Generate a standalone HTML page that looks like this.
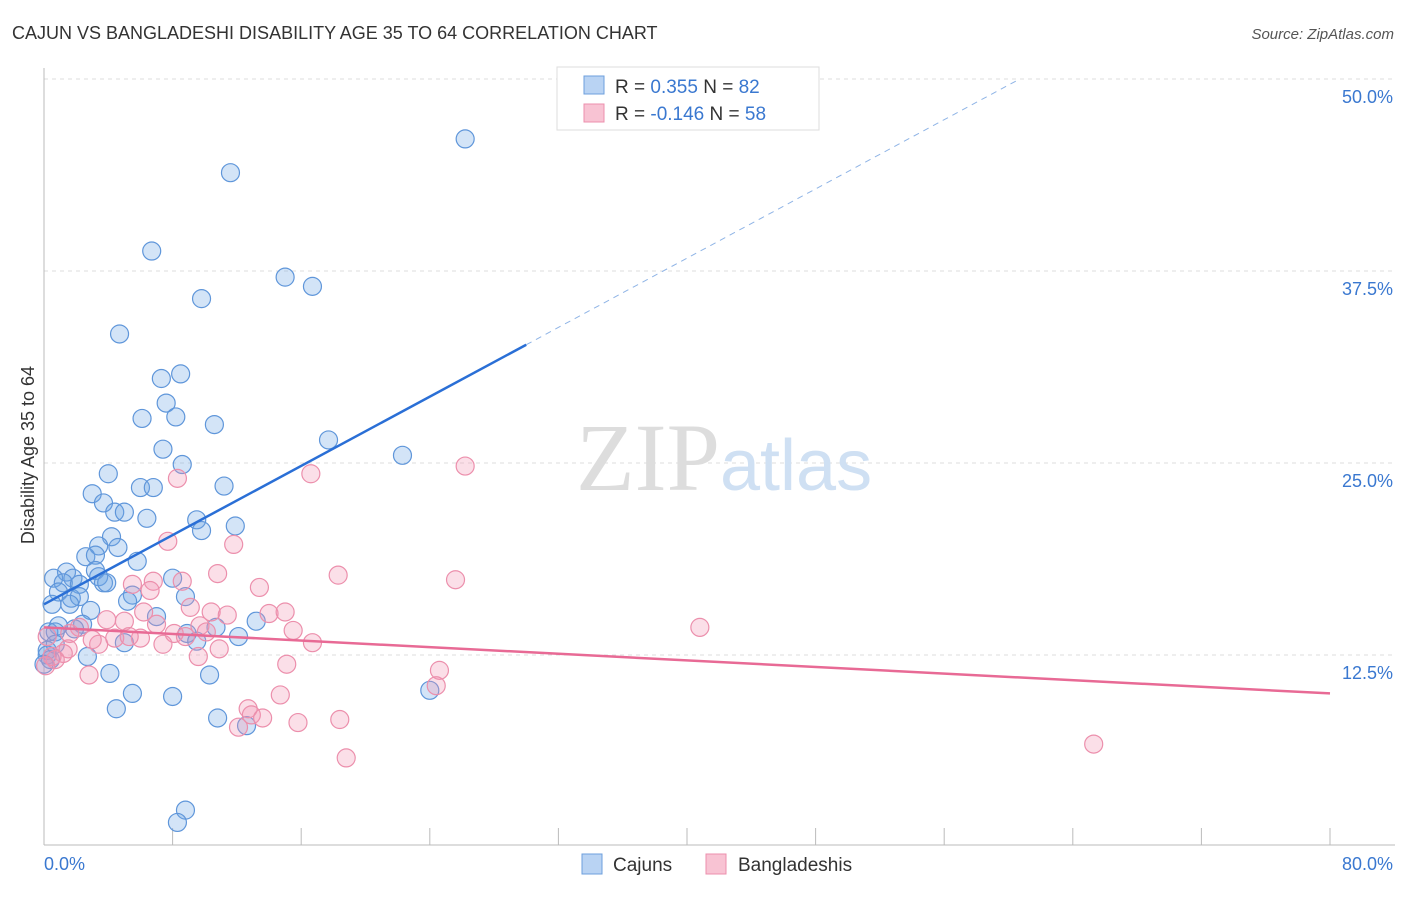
<!DOCTYPE html>
<html><head><meta charset="utf-8"><style>
body{margin:0;background:#fff;font-family:"Liberation Sans",sans-serif}
</style></head><body>
<svg width="1406" height="892" viewBox="0 0 1406 892" xmlns="http://www.w3.org/2000/svg">
<text x="12" y="39" font-size="18" fill="#333">CAJUN VS BANGLADESHI DISABILITY AGE 35 TO 64 CORRELATION CHART</text>
<text x="1394" y="39" font-size="15" fill="#555" text-anchor="end" font-style="italic">Source: ZipAtlas.com</text>
<g id="grid"></g>
<text x="720" y="490" font-size="96" fill="#ddd" text-anchor="end" font-family="Liberation Serif">ZIP</text>
<text x="720" y="490" font-size="72" fill="#cfe0f3">atlas</text>
<g id="pts"></g>
<g id="lines"></g>
<text transform="translate(34,455) rotate(-90)" font-size="18" fill="#333" text-anchor="middle">Disability Age 35 to 64</text>
<g>
<rect x="557" y="67" width="262" height="63" fill="#fff" stroke="#ddd"/>
<rect x="584" y="76" width="20" height="18" fill="#b9d3f3" stroke="#6d9fdc"/>
<rect x="584" y="104" width="20" height="18" fill="#f8c3d3" stroke="#ec8fac"/>
<text x="615" y="93" font-size="19" fill="#333">R = <tspan fill="#3a78d0"> 0.355</tspan>   N = <tspan fill="#3a78d0">82</tspan></text>
<text x="615" y="120" font-size="19" fill="#333">R = <tspan fill="#3a78d0">-0.146</tspan>   N = <tspan fill="#3a78d0">58</tspan></text>
</g>
<g>
<rect x="582" y="854" width="20" height="20" fill="#b9d3f3" stroke="#6d9fdc"/>
<text x="613" y="871" font-size="19" fill="#333">Cajuns</text>
<rect x="706" y="854" width="20" height="20" fill="#f8c3d3" stroke="#ec8fac"/>
<text x="738" y="871" font-size="19" fill="#333">Bangladeshis</text>
</g>
</svg>
<script>
const yTicks=[12.5,25,37.5,50];
const yTickLabels=["12.5%","25.0%","37.5%","50.0%"];
const xTickLabels=["0.0%","80.0%"];
const cajunX=[26.2,11.6,6.7,15.0,16.7,9.8,4.7,8.5,7.3,7.6,6.1,8.2,10.6,17.7,22.3,7.4,8.6,4.0,3.0,3.7,6.0,6.8,11.2,4.4,5.0,6.4,9.5,9.8,11.9,4.2,3.4,4.6,2.6,3.2,5.8,1.4,3.2,3.4,0.6,1.8,1.2,2.2,3.7,3.9,8.0,0.9,1.7,2.2,1.6,2.9,5.5,5.2,8.8,0.5,7.0,13.2,10.7,0.9,2.4,0.3,0.7,1.9,8.9,9.5,12.1,5.0,0.2,2.7,4.1,10.3,5.5,8.0,24.0,4.5,10.8,12.6,8.8,8.3,0.4,0.2,0.7,0.0];
const cajunY=[46.1,43.9,38.8,37.1,36.5,35.7,33.4,30.8,30.5,28.9,27.9,28.0,27.5,26.5,25.5,25.9,24.9,24.3,23.0,22.4,23.4,23.4,23.5,21.8,21.8,21.4,21.3,20.6,20.9,20.2,19.6,19.5,18.9,19.0,18.6,17.9,18.0,17.6,17.5,17.5,17.2,17.1,17.2,17.2,17.5,16.6,16.2,16.3,15.8,15.4,16.4,16.0,16.3,15.8,15.0,14.7,14.3,14.4,14.5,14.0,14.0,14.2,13.9,13.4,13.7,13.3,12.8,12.4,11.3,11.2,10.0,9.8,10.2,9.0,8.4,7.9,2.4,1.6,12.2,12.5,13.2,11.9];
const bangX=[26.2,16.6,8.3,7.7,11.8,10.8,18.3,25.6,6.8,8.6,5.5,13.4,6.6,6.2,9.1,10.4,11.4,14.0,15.0,3.9,5.0,7.0,2.2,8.1,9.7,10.1,15.5,16.7,40.8,4.4,3.4,3.0,6.0,7.4,10.9,1.5,1.2,0.7,9.6,15.1,24.6,2.8,14.7,24.4,12.7,12.9,13.6,12.1,15.8,18.4,18.8,65.3,1.6,0.2,0.5,0.1,5.3,8.8];
const bangY=[24.8,24.3,24.0,19.9,19.7,17.8,17.7,17.4,17.3,17.3,17.1,16.9,16.7,15.3,15.6,15.3,15.1,15.2,15.3,14.8,14.7,14.5,14.3,13.9,14.4,14.0,14.1,13.3,14.3,13.6,13.2,13.5,13.6,13.2,12.9,12.9,12.6,12.2,12.4,11.9,11.5,11.2,9.9,10.5,9.0,8.6,8.4,7.8,8.1,8.3,5.8,6.7,13.9,13.7,12.4,11.8,13.7,13.7];
const X0=44,X1=1330,Y0=847,YPX=768;
const sx=v=>X0+(v/80)*(X1-X0);
const sy=v=>Y0-(v/50)*YPX;
const NS="http://www.w3.org/2000/svg";
function mk(t,a,p){const e=document.createElementNS(NS,t);for(const k in a)e.setAttribute(k,a[k]);p.appendChild(e);return e;}
const svg=document.querySelector('svg'),grid=document.getElementById('grid'),pts=document.getElementById('pts'),lines=document.getElementById('lines');
yTicks.forEach((t,i)=>{
 const l=mk('line',{x1:X0,x2:1395,y1:sy(t),y2:sy(t),stroke:'#ddd','stroke-dasharray':'4,4'},grid);
 
 
 const tx=mk('text',{x:1393,y:sy(t)+24,'font-size':18,fill:'#3a78d0','text-anchor':'end'},grid);
 tx.textContent=yTickLabels[i];
 
 
});
mk('line',{x1:X0,x2:X0,y1:68,y2:845,stroke:'#bbb'},grid);
mk('line',{x1:X0,x2:1395,y1:845,y2:845,stroke:'#bbb'},grid);
for(let i=0;i<=10;i++){const x=sx(i*8);const t=mk('line',{x1:x,x2:x,y1:828,y2:845,stroke:'#bbb'},grid);}
[[0,44,'start'],[1,1393,'end']].forEach(([i,x,a])=>{const t=mk('text',{x:x,y:870,'font-size':18,fill:'#3a78d0','text-anchor':a},grid);t.textContent=xTickLabels[i];});
cajunX.forEach((v,i)=>{const c=mk('circle',{cx:sx(v),cy:sy(cajunY[i]),r:9,fill:'rgba(110,165,230,0.3)',stroke:'#5f96da','stroke-width':1.2},pts);});
bangX.forEach((v,i)=>{const c=mk('circle',{cx:sx(v),cy:sy(bangY[i]),r:9,fill:'rgba(242,150,180,0.3)',stroke:'#ec8fac','stroke-width':1.2},pts);});
const b1=mk('line',{x1:sx(0),y1:sy(15.8),x2:sx(30),y2:sy(32.7),stroke:'#2a6fd6','stroke-width':2.5},lines);

const b2=mk('line',{x1:sx(30),y1:sy(32.7),x2:sx(60.7),y2:sy(50),stroke:'#8fb4e6','stroke-width':1,'stroke-dasharray':'6,5'},lines);

const p1=mk('line',{x1:sx(0),y1:sy(14.3),x2:sx(80),y2:sy(10.0),stroke:'#e86a95','stroke-width':2.5},lines);

</script>
</body></html>
